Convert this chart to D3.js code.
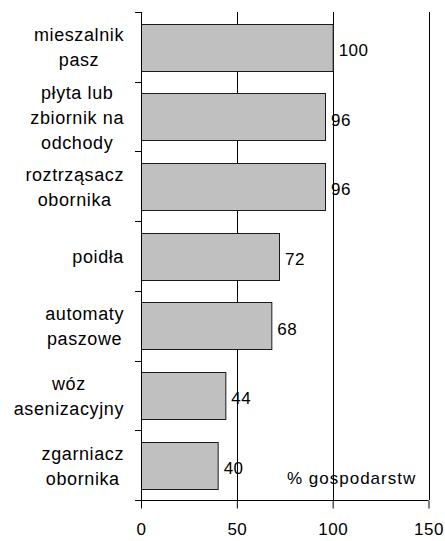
<!DOCTYPE html>
<html>
<head>
<meta charset="utf-8">
<script src="https://cdn.jsdelivr.net/npm/d3@7"></script>
<style>
  html, body { margin: 0; padding: 0; background: #fff; }
  text { font-family: "Liberation Sans", Arial, sans-serif; fill: #000; }
</style>
</head>
<body>
<div id="chart"></div>
<script>
// data
var categories = [
  ['mieszalnik', 'pasz'],
  ['płyta lub', 'zbiornik na', 'odchody'],
  ['roztrząsacz', 'obornika'],
  ['poidła'],
  ['automaty', 'paszowe'],
  ['wóz', 'asenizacyjny'],
  ['zgarniacz', 'obornika']
];
var values = [100, 96, 96, 72, 68, 44, 40];
var xTicks = [0, 50, 100, 150];
var unitLabel = '% gospodarstw';

var width = 445, height = 541;
var plotLeft = 141, plotRight = 428.5, plotTop = 12, plotBottom = 500;

var svg = d3.select('#chart')
  .append('svg')
  .attr('width', width)
  .attr('height', height);

var x = d3.scaleLinear().domain([0, 150]).range([plotLeft, plotRight]);
var y = d3.scaleBand()
  .domain(d3.range(categories.length))
  .range([plotTop, plotBottom])
  .paddingInner(0.33)
  .paddingOuter(0.165);

//gridlines
svg.append('g')
  .selectAll('line')
  .data(xTicks.slice(1))
  .enter()
  .append('line')
  .attr('x1', function(d) { return Math.round(x(d)) + 0.5; })
  .attr('x2', function(d) { return Math.round(x(d)) + 0.5; })
  .attr('y1', plotTop)
  .attr('y2', plotBottom)
  .attr('stroke', '#000')
  .attr('shape-rendering', 'crispEdges');

//bars
svg.append('g')
  .selectAll('rect')
  .data(values)
  .enter()
  .append('rect')
  .attr('x', x(0) + 0.5)
  .attr('y', function(d, i) { return Math.round(y(i)) + 0.5; })
  .attr('width', function(d) { return x(d) - x(0); })
  .attr('height', Math.round(y.bandwidth()))
  .attr('fill', '#c0c0c0')
  .attr('stroke', '#1a1a1a');

//value labels
svg.append('g')
  .selectAll('text')
  .data(values)
  .enter()
  .append('text')
  .attr('x', function(d) { return x(d) + 6; })
  .attr('y', function(d, i) { return y(i) + y.bandwidth() / 2 + 9; })
  .attr('font-size', 17)
  .attr('letter-spacing', 0.5)
  .text(function(d) { return d; });

//left axis with ticks at band boundaries
var step = y.step();
var bounds = d3.range(categories.length + 1).map(function(i) { return plotTop + i * step; });
svg.append('line')
  .attr('x1', plotLeft + 0.5).attr('x2', plotLeft + 0.5)
  .attr('y1', plotTop).attr('y2', plotBottom)
  .attr('stroke', '#000').attr('shape-rendering', 'crispEdges');
svg.append('g')
  .selectAll('line')
  .data(bounds)
  .enter()
  .append('line')
  .attr('x1', plotLeft - 6).attr('x2', plotLeft)
  .attr('y1', function(d) { return Math.round(d) + 0.5; })
  .attr('y2', function(d) { return Math.round(d) + 0.5; })
  .attr('stroke', '#000').attr('shape-rendering', 'crispEdges');

//bottom axis
var xAxis = d3.axisBottom(x).tickValues(xTicks).tickSize(8).tickPadding(14);
var gx = svg.append('g')
  .attr('transform', 'translate(0,' + (plotBottom + 0.5) + ')')
  .call(xAxis);
gx.select('.domain').attr('stroke', '#000').attr('d', 'M' + plotLeft + ',0H' + plotRight);
gx.selectAll('.tick line').attr('stroke', '#000');
gx.selectAll('.tick text')
  .attr('font-size', 17)
  .attr('letter-spacing', 0.5)
  .attr('font-family', '"Liberation Sans", Arial, sans-serif')
  .attr('fill', '#000');

//category labels: block right aligned, lines centered
var labelRight = 124, lineH = 25;
categories.forEach(function(lines, i) {
  var g = svg.append('g');
  var cy = y(i) + y.bandwidth() / 2;
  var texts = lines.map(function(l, j) {
    return g.append('text')
      .attr('font-size', 18)
      .attr('letter-spacing', 0.6)
      .attr('text-anchor', 'middle')
      .attr('y', cy + (j - (lines.length - 1) / 2) * lineH + 7)
      .text(l);
  });
  var maxW = d3.max(texts, function(t) { return t.node().getComputedTextLength(); });
  texts.forEach(function(t) { t.attr('x', labelRight - maxW / 2); });
});

//unit label
svg.append('text')
  .attr('x', 287)
  .attr('y', 484)
  .attr('font-size', 17)
  .attr('letter-spacing', 1)
  .text(unitLabel);
</script>
</body>
</html>
